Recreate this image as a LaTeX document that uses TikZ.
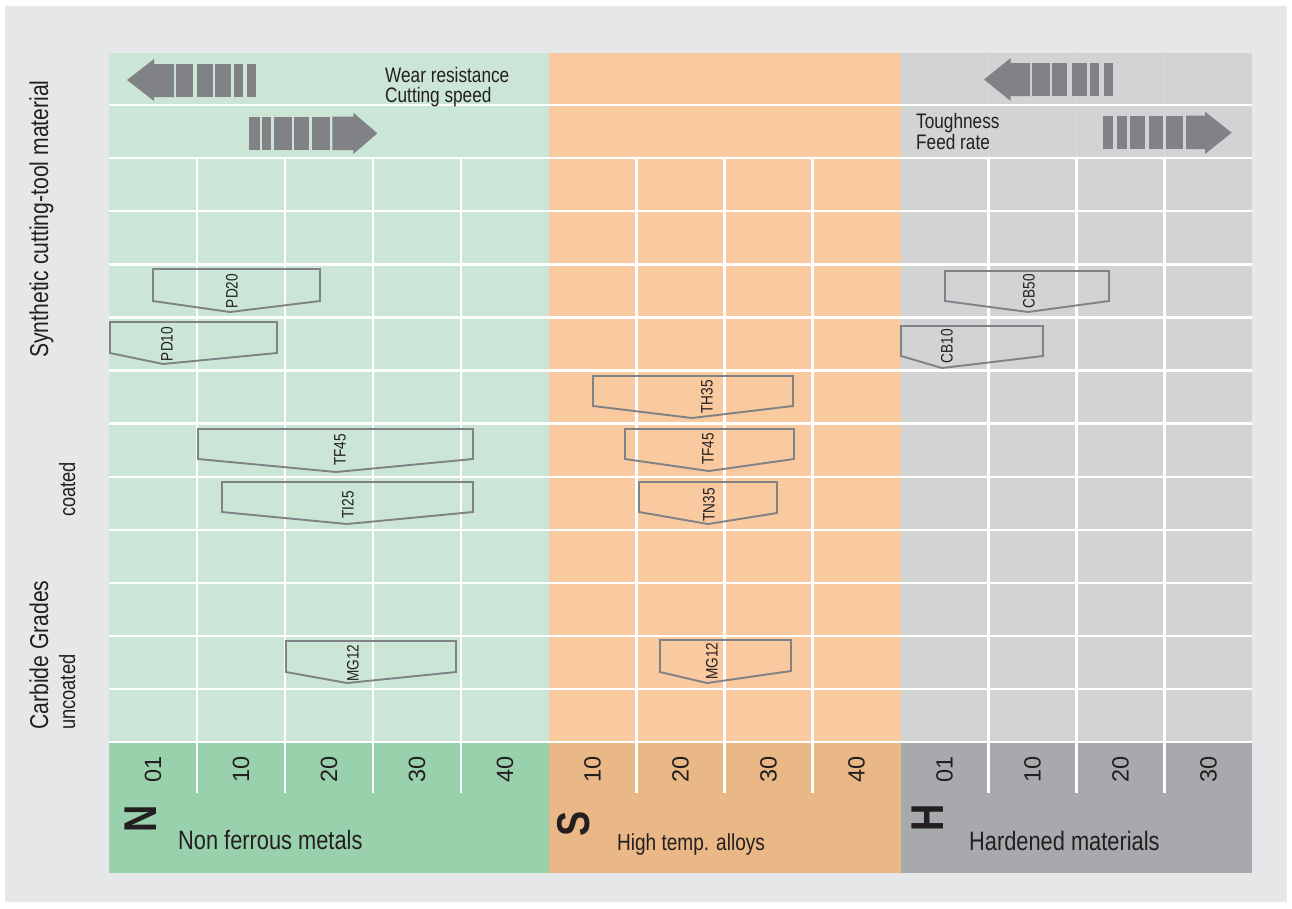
\documentclass[tikz,border=0pt]{standalone}
\usepackage{fontspec}
\setmainfont{Liberation Sans}
\newfontfamily\cond[FakeStretch=0.82]{Liberation Sans}
\definecolor{bgc}{RGB}{230,231,232}
\definecolor{nlight}{RGB}{203,230,214}
\definecolor{ndark}{RGB}{153,209,173}
\definecolor{slight}{RGB}{249,201,160}
\definecolor{sdark}{RGB}{234,184,134}
\definecolor{hlight}{RGB}{209,211,212}
\definecolor{hdark}{RGB}{167,169,172}
\definecolor{arrowgray}{RGB}{128,130,133}
\definecolor{txt}{RGB}{35,31,32}
\tikzset{
  gridline/.style={white, line width=2.4pt},
  gradeline/.style={draw=arrowgray, line width=1.9pt, line join=miter},
  gradelabel/.style={inner sep=0pt, rotate=90, text=txt, font=\cond\fontsize{16.6}{19}\selectfont},
  toplab/.style={inner sep=0pt, anchor=base west, text=txt, font=\cond\fontsize{21}{24}\selectfont},
  sidebig/.style={inner sep=0pt, anchor=base west, rotate=90, text=txt, font=\cond\fontsize{25.8}{30}\selectfont},
  sidesmall/.style={inner sep=0pt, anchor=base west, rotate=90, text=txt, font=\cond\fontsize{22.3}{26}\selectfont},
  numlab/.style={inner sep=0pt, rotate=90, text=txt, font=\fontsize{23.5}{28}\selectfont},
  letterlab/.style={inner sep=0pt, anchor=base west, rotate=90, text=txt, font=\cond\bfseries\fontsize{46}{50}\selectfont},
  grouplab/.style={inner sep=0pt, anchor=base west, text=txt, font=\cond\fontsize{26.6}{30}\selectfont},
}
\begin{document}
\begin{tikzpicture}[x=1pt,y=-1pt]
\useasboundingbox (0,0) rectangle (1292,908);
\fill[white] (0,0) rectangle (1292,908);
\fill[bgc] (5,6) rectangle (1287,902);
% colour fields
\fill[nlight] (109,53) rectangle (548.5,742);
\fill[ndark] (109,742) rectangle (548.5,873);
\fill[slight] (548.5,53) rectangle (900.5,742);
\fill[sdark] (548.5,742) rectangle (900.5,873);
\fill[hlight] (900.5,53) rectangle (1252,742);
\fill[hdark] (900.5,742) rectangle (1252,873);
% grid
\foreach \y in {105,158,211.2,264.3,317.4,370.5,423.6,476.7,529.8,583,636,689,742}
  \draw[gridline] (109,\y) -- (1252,\y);
\foreach \x in {197,285,373,461,636.5,724.5,812.5,988.5,1076.5,1164.5}
  \draw[gridline] (\x,158) -- (\x,793);
\foreach \x in {988.5,1076.5,1164.5}
  \draw[white, opacity=0.12, line width=1.5pt] (\x,53) -- (\x,158);
% arrows N
\fill[arrowgray] (127,80) -- (154,59) -- (154,64) -- (174,64) -- (174,97) -- (154,97) -- (154,101) -- cycle;
\foreach \a/\b in {176/193.3,196.7/212.7,215/230.7,234/242.7,246.7/255.7}
  \fill[arrowgray] (\a,64) rectangle (\b,97);
\foreach \a/\b in {249/260,262.3/271,274/291.7,294/309,311.7/330}
  \fill[arrowgray] (\a,116.7) rectangle (\b,150);
\fill[arrowgray] (332.3,116.7) -- (353.3,116.7) -- (353.3,112.7) -- (377.3,133.3) -- (353.3,154) -- (353.3,150) -- (332.3,150) -- cycle;
% arrows H
\fill[arrowgray] (984,79.5) -- (1010.7,58) -- (1010.7,63) -- (1030,63) -- (1030,96) -- (1010.7,96) -- (1010.7,101) -- cycle;
\foreach \a/\b in {1032.3/1050,1052.3/1066.7,1071.7/1086.7,1090/1099.3,1104/1112.7}
  \fill[arrowgray] (\a,63) rectangle (\b,96);
\foreach \a/\b in {1102.7/1112.7,1116.7/1126.7,1130/1145,1149.3/1163.3,1166/1183.3}
  \fill[arrowgray] (\a,115.7) rectangle (\b,149);
\fill[arrowgray] (1186,115.7) -- (1205,115.7) -- (1205,111.7) -- (1231.7,132.7) -- (1205,154) -- (1205,149) -- (1186,149) -- cycle;
% top labels
\node[toplab] (wear) at (385,82) {Wear resistance};
\node[toplab] (speed) at (385,102) {Cutting speed};
\node[toplab] (tough) at (916,128) {Toughness};
\node[toplab] (feed) at (916,149) {Feed rate};
% side labels
\node[sidebig] (synth) at (48,358) {Synthetic cutting-tool material};
\node[sidebig] (carb) at (48,730) {Carbide Grades};
\node[sidesmall] (coat) at (75,517) {coated};
\node[sidesmall] (uncoat) at (75,730) {uncoated};
% grade shapes
\draw[gradeline] (153,269) -- (320,269) -- (320,301) -- (230,312) -- (153,301) -- cycle;
\node[gradelabel] (pd20) at (232,291) {PD20};
\draw[gradeline] (110,322) -- (277,322) -- (277,353) -- (163,364) -- (110,353) -- cycle;
\node[gradelabel] (pd10) at (167,344) {PD10};
\draw[gradeline] (945,271) -- (1109,271) -- (1109,301) -- (1028,312) -- (945,301) -- cycle;
\node[gradelabel] (cb50) at (1029,291) {CB50};
\draw[gradeline] (901,326) -- (1043,326) -- (1043,356) -- (942,368) -- (901,356) -- cycle;
\node[gradelabel] (cb10) at (947,346) {CB10};
\draw[gradeline] (593,376) -- (793,376) -- (793,406) -- (692,418) -- (593,406) -- cycle;
\node[gradelabel] (th35) at (707,397) {TH35};
\draw[gradeline] (625,429) -- (794,429) -- (794,459) -- (709,471) -- (625,459) -- cycle;
\node[gradelabel] (tf45s) at (708,449) {TF45};
\draw[gradeline] (639,482) -- (777,482) -- (777,513) -- (708,524) -- (639,512) -- cycle;
\node[gradelabel] (tn35) at (709,505) {TN35};
\draw[gradeline] (198,429) -- (473,429) -- (473,459) -- (336,472) -- (198,459) -- cycle;
\node[gradelabel] (tf45n) at (340,450) {TF45};
\draw[gradeline] (222,482) -- (473,482) -- (473,512) -- (347,524) -- (222,512) -- cycle;
\node[gradelabel] (ti25) at (348,505) {TI25};
\draw[gradeline] (286,641) -- (456,641) -- (456,672) -- (347,683) -- (286,672) -- cycle;
\node[gradelabel] (mg12n) at (353,663) {MG12};
\draw[gradeline] (660,640) -- (791,640) -- (791,671) -- (707,683) -- (660,672) -- cycle;
\node[gradelabel] (mg12s) at (712,661) {MG12};
% numbers
\foreach \x/\t [count=\i] in {153/01,241/10,329/20,417/30,505/40,592.5/10,680.5/20,768.5/30,856.5/40,944.5/01,1032.5/10,1120.5/20,1208.5/30}
  \node[numlab] (num\i) at (\x,769) {\t};
% group letters and names
\node[letterlab] (letN) at (156,833) {N};
\node[letterlab] (letS) at (589,837) {S};
\node[letterlab] (letH) at (943,832) {H};
\node[grouplab] (nname) at (178,849) {Non ferrous metals};
\node[grouplab, font=\cond\fontsize{23.2}{27}\selectfont] (sname) at (617,850) {High temp. alloys};
\node[grouplab] (hname) at (969,850) {Hardened materials};
\end{tikzpicture}
\end{document}
